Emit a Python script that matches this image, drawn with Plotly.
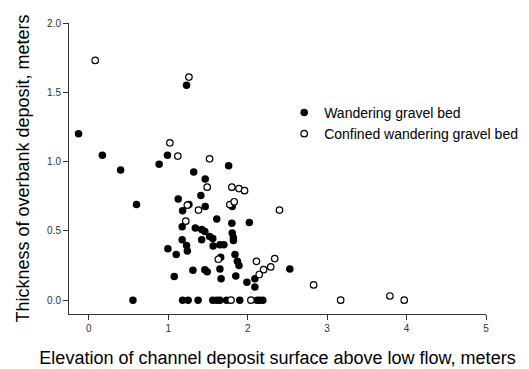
import plotly.graph_objects as go

# Wandering gravel bed sites: elevation above low flow (m) vs overbank thickness (m)
wandering_x = [-0.13, 0.17, 0.40, 0.60, 0.555, 0.885, 0.99, 1.23, 1.32, 1.465,
               1.76, 1.125, 1.41, 1.26, 1.465, 1.18, 1.805, 1.61, 1.80, 2.02,
               1.175, 1.34, 1.42, 1.46, 1.805, 1.82, 1.82, 1.175, 1.42, 1.52,
               1.56, 1.565, 1.65, 1.70, 0.995, 1.10, 1.23, 1.24, 1.66, 1.84,
               1.87, 1.89, 1.31, 1.46, 1.49, 1.65, 1.075, 1.665, 1.85, 1.99,
               2.09, 2.09, 2.53,
               1.18, 1.25, 1.375, 1.56, 1.61, 1.65, 1.735, 1.90, 2.12, 2.15, 2.19]
wandering_y = [1.20, 1.045, 0.94, 0.69, 0.0, 0.98, 1.045, 1.55, 0.925, 0.875,
               0.97, 0.73, 0.755, 0.69, 0.675, 0.645, 0.675, 0.585, 0.555, 0.56,
               0.53, 0.52, 0.51, 0.495, 0.485, 0.45, 0.43, 0.435, 0.435, 0.46,
               0.445, 0.39, 0.40, 0.40, 0.37, 0.33, 0.395, 0.355, 0.31, 0.33,
               0.28, 0.25, 0.215, 0.22, 0.205, 0.225, 0.17, 0.155, 0.175, 0.13,
               0.155, 0.095, 0.225,
               0.0, 0.0, 0.0, 0.0, 0.0, 0.0, 0.0, 0.0, 0.0, 0.0, 0.0]

# Confined wandering gravel bed sites
confined_x = [0.08, 1.26, 1.02, 1.12, 1.52, 1.49, 1.80, 1.89, 1.96, 1.24,
              1.38, 1.775, 1.83, 2.40, 1.22, 1.63, 2.11, 2.34, 2.29, 2.20,
              2.145, 2.83, 3.79,
              1.79, 2.04, 3.17, 3.97]
confined_y = [1.73, 1.61, 1.135, 1.04, 1.02, 0.815, 0.815, 0.805, 0.79, 0.685,
              0.65, 0.69, 0.71, 0.65, 0.57, 0.295, 0.28, 0.30, 0.24, 0.22,
              0.185, 0.11, 0.03,
              0.0, 0.0, 0.0, 0.0]

x_ticks = [0, 1, 2, 3, 4, 5]
y_ticks = [0.0, 0.5, 1.0, 1.5, 2.0]

FONT = "Liberation Sans, Arial, Helvetica, sans-serif"

fig = go.Figure()
fig.add_trace(go.Scatter(
    x=wandering_x, y=wandering_y, mode="markers",
    name="Wandering gravel bed",
    marker=dict(symbol="circle", size=7.5, color="black",
                line=dict(width=0)),
))
fig.add_trace(go.Scatter(
    x=confined_x, y=confined_y, mode="markers",
    name="Confined wandering gravel bed",
    marker=dict(symbol="circle", size=6.5, color="white",
                line=dict(width=1.2, color="black")),
))

axis_common = dict(
    showline=True, linecolor="#333", linewidth=1,
    ticks="outside", ticklen=5, tickcolor="#333", tickwidth=1,
    showgrid=False, zeroline=False, automargin=False,
    tickfont=dict(family=FONT, size=10, color="#333"),
)

fig.update_xaxes(
    range=[-0.25, 5.0], tickvals=x_ticks, ticktext=[str(v) for v in x_ticks],
    title=dict(text="Elevation of channel deposit surface above low flow, meters",
               font=dict(family=FONT, size=18, color="black"), standoff=18),
    **axis_common,
)
fig.update_yaxes(
    range=[-0.1, 2.0], tickvals=y_ticks, ticktext=[f"{v:.1f}" for v in y_ticks],
    title=dict(text="Thickness of overbank deposit, meters",
               font=dict(family=FONT, size=18, color="black"), standoff=12),
    **axis_common,
)

fig.update_layout(
    width=529, height=369,
    margin=dict(l=69, r=43, t=23, b=55, autoexpand=False),
    paper_bgcolor="white", plot_bgcolor="white",
    font=dict(family=FONT, color="black"),
    legend=dict(
        x=0.516, y=0.746, xanchor="left", yanchor="top",
        font=dict(family=FONT, size=14, color="black"),
        bgcolor="rgba(0,0,0,0)", borderwidth=0,
        tracegroupgap=0, itemwidth=30,
    ),
)

fig.write_html("out.html")
